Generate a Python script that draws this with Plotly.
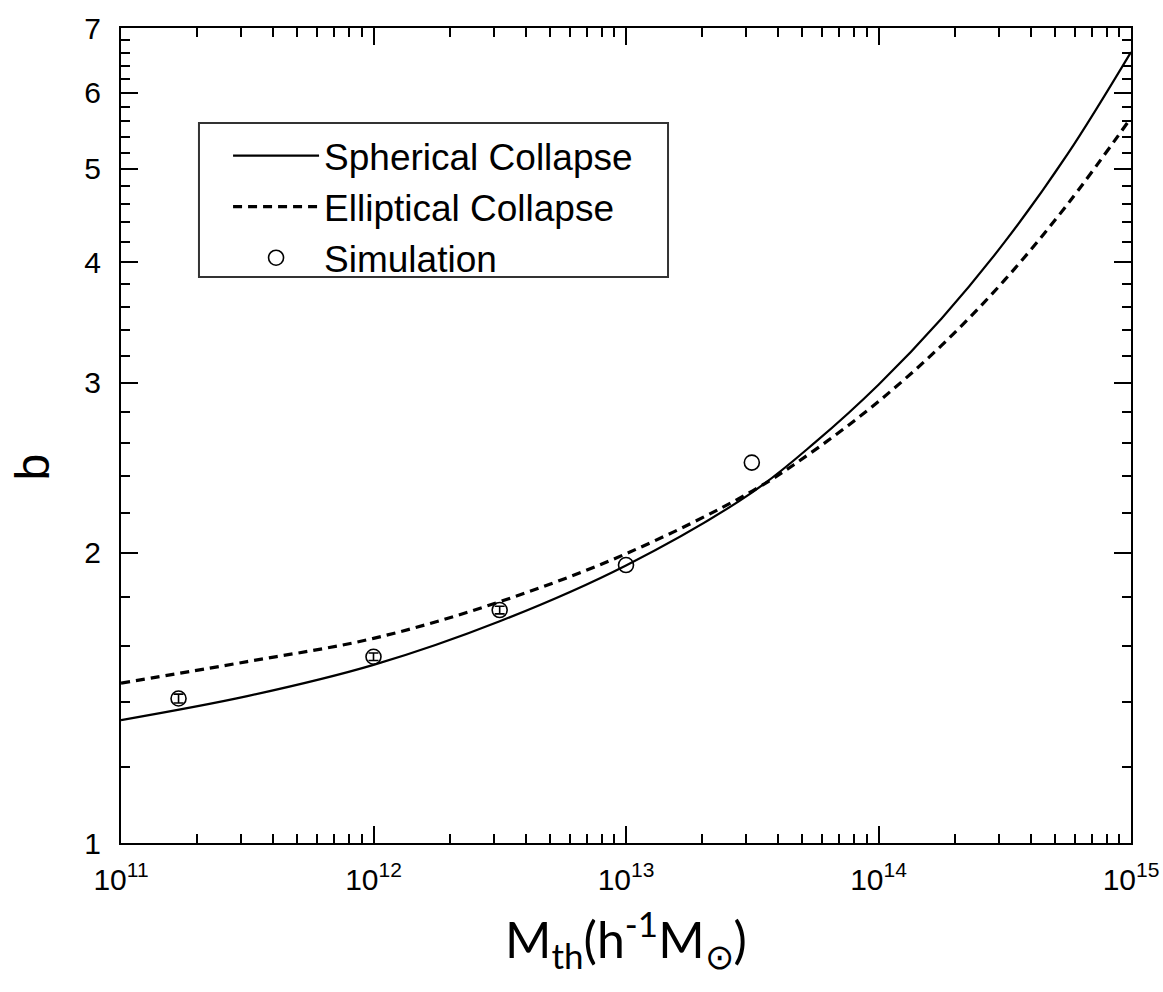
import numpy as np
import plotly.graph_objects as go

# Halo bias b versus threshold mass M_th
sph_mass = [1e11, 3.162e11, 1e12, 3.162e12, 1e13, 3.162e13, 5.623e13,
            1e14, 1.778e14, 3.162e14, 5.623e14, 1e15]
sph_b = [1.341, 1.420, 1.530, 1.698, 1.940, 2.310, 2.604,
         2.987, 3.499, 4.20, 5.186, 6.61]

ell_mass = [1e11, 3.162e11, 1e12, 3.162e12, 1e13, 3.162e13, 5.623e13,
            1e14, 1.778e14, 3.162e14, 5.623e14, 1e15]
ell_b = [1.465, 1.542, 1.630, 1.779, 1.995, 2.317, 2.558,
         2.870, 3.281, 3.836, 4.60, 5.65]

sim_mass = [1.69e11, 1.0e12, 3.16e12, 1.0e13, 3.15e13]
sim_b = [1.412, 1.56, 1.744, 1.942, 2.48]
sim_err = [0.015, 0.014, 0.016, 0.0, 0.0]

x_major = [1e11, 1e12, 1e13, 1e14, 1e15]
x_major_text = ["10<sup>11</sup>", "10<sup>12</sup>", "10<sup>13</sup>",
                "10<sup>14</sup>", "10<sup>15</sup>"]
y_major = [1, 2, 3, 4, 5, 6, 7]
y_major_text = ["1", "2", "3", "4", "5", "6", "7"]

x_minor = [k * 10.0 ** d for d in range(11, 15) for k in range(2, 10)]
y_minor = [round(v, 1) for v in np.arange(1.2, 7.0, 0.2) if abs(v - round(v)) > 1e-6]

FONT = "Liberation Sans, Arial, sans-serif"

fig = go.Figure()

fig.add_trace(go.Scatter(
    x=sph_mass, y=sph_b, mode="lines", name="Spherical Collapse",
    line=dict(color="black", width=2.2, shape="spline", smoothing=1.0),
    legendgroup="a",
))
fig.add_trace(go.Scatter(
    x=ell_mass, y=ell_b, mode="lines", name="Elliptical Collapse",
    line=dict(color="black", width=3.2, dash="9px,6px", shape="spline", smoothing=1.0),
    legendgroup="b",
))

err_idx = [i for i, e in enumerate(sim_err) if e > 0]
plain_idx = [i for i, e in enumerate(sim_err) if e <= 0]
marker = dict(symbol="circle-open", size=15, color="black", line=dict(width=1.6, color="black"))
fig.add_trace(go.Scatter(
    x=[sim_mass[i] for i in err_idx], y=[sim_b[i] for i in err_idx],
    mode="markers", name="Simulation", marker=marker, legendgroup="c",
    error_y=dict(type="data", array=[sim_err[i] for i in err_idx],
                 color="black", thickness=1.6, width=5),
))
fig.add_trace(go.Scatter(
    x=[sim_mass[i] for i in plain_idx], y=[sim_b[i] for i in plain_idx],
    mode="markers", name="Simulation", marker=marker, legendgroup="c",
    showlegend=False,
))

axis_common = dict(
    showline=True, linecolor="black", linewidth=2, mirror="allticks",
    ticks="inside", ticklen=17, tickwidth=2, tickcolor="black",
    showgrid=False, zeroline=False, automargin=False,
    tickfont=dict(family=FONT, size=30, color="black"),
)

fig.update_xaxes(
    type="log", range=[11, 15],
    tickmode="array", tickvals=x_major, ticktext=x_major_text,
    minor=dict(tickmode="array", tickvals=x_minor, ticks="inside",
               ticklen=9, tickwidth=2, tickcolor="black", showgrid=False),
    ticklabelstandoff=9,
    title=dict(text="M<sub>th</sub>(h<sup>-1</sup>M<sub>⊙</sub>)",
               font=dict(family="Lato, Open Sans, sans-serif", size=50, color="black"),
               standoff=28),
    **axis_common,
)
fig.update_yaxes(
    type="log", range=[0, np.log10(7)],
    tickmode="array", tickvals=y_major, ticktext=y_major_text,
    minor=dict(tickmode="array", tickvals=y_minor, ticks="inside",
               ticklen=9, tickwidth=2, tickcolor="black", showgrid=False),
    ticklabelstandoff=12,
    **axis_common,
)

# y-axis title, placed beside the tick labels
fig.add_annotation(
    text="b", textangle=-90, showarrow=False,
    xref="paper", yref="paper", x=-0.088, y=0.461,
    xanchor="center", yanchor="middle",
    font=dict(family=FONT, size=48, color="black"),
)

# legend frame
fig.add_shape(
    type="rect", xref="paper", yref="paper",
    x0=0.0772, x1=0.5416, y0=0.6945, y1=0.8834,
    line=dict(color="#333", width=2), fillcolor="white", layer="below",
)

fig.update_layout(
    width=1163, height=992,
    margin=dict(l=121, r=32, t=28, b=149),
    paper_bgcolor="white", plot_bgcolor="white",
    showlegend=True,
    legend=dict(
        x=0.106, y=0.881, xanchor="left", yanchor="top",
        bgcolor="rgba(0,0,0,0)", borderwidth=0,
        font=dict(family=FONT, size=37, color="black"),
        itemwidth=86, tracegroupgap=0,
    ),
)

fig.write_html("out.html")
